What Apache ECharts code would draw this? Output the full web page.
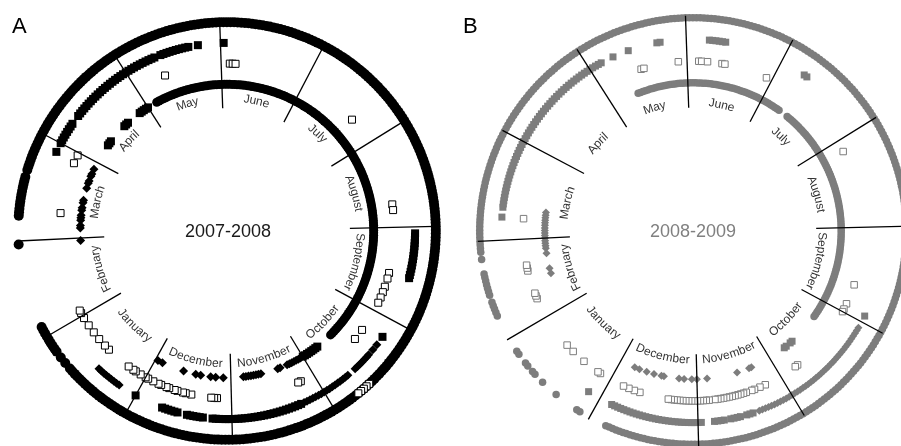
<!DOCTYPE html>
<html>
<head>
<meta charset="utf-8">
<script src="https://cdn.jsdelivr.net/npm/echarts@6/dist/echarts.min.js"></script>
<style>
  html, body { margin: 0; padding: 0; background: #fff; }
  #chart { width: 901px; height: 446px; }
</style>
</head>
<body>
<div id="chart"></div>
<script>
// Season calendar: day 0 = 1 June, one lap = 365 days, clockwise from 12 o'clock.
const months = ['June', 'July', 'August', 'September', 'October', 'November',
                'December', 'January', 'February', 'March', 'April', 'May'];
const monthStart = [0, 30, 61, 92, 122, 153, 183, 214, 245, 273, 304, 334];
const monthDays = [30, 31, 31, 30, 31, 30, 31, 31, 28, 31, 30, 31];
// Month names in the lower half are read from inside the ring
const readFromInside = ['October', 'November', 'December', 'January'];

const seasonA = '2007-2008';
const seasonB = '2008-2009';

// Detection days per ring (track 1 = innermost, 4 = outermost).
// A pair [a, b] means every day from a to b.
const a_t4_circle = [[0, 234], 236, 238, [240, 248], 272, [280, 291], [293, 364]];
const a_t4_open = [141, 142, 143, 144, 145];
const a_t3_square = [1, [94, 108], 128, [161, 189], [192, 197], [200, 205], 214,
                     301, [304, 311], [314, 344], [346, 355], 358];
const a_t3_diamond = [131, 133, [135, 141], [144, 160], [220, 228]];
const a_t2_open = [3, 4, 5, 51, 84, 86, 108, 110, 113, 115, 117, 119, 130, 134, 158, 159,
                   188, 189, 190, 197, 199, 200, 202, 203, 205, 206, 208, 209, 211, 213, 214,
                   216, 218, 219, 221, 230, 232, 235, 238, 241, 244, 246, 247, 282, 300, 303, 345];
const a_t1_circle = [[0, 139], [338, 364]];
const a_t1_square = [[146, 153], [312, 314], [322, 324], [330, 334]];
const a_t1_diamond = [154, 155, 156, 157, 158, 159, 160, 163, 164, 171, 172, 173, 174, 175, 176,
                      177, 178, 186, 189, 191, 195, 197, 202, 211, 213, 272, 277, 278, 280, 281,
                      282, 284, 285, 287, 288, 293, 295, 296, 298, 299, 301];

const b_t4_circle = [[0, 209], 217, 218, 225, 230, 233, 234, 236, 237, 240, 241,
                     [252, 256], [258, 264], 268, [270, 364]];
const b_t3_square = [[7, 12], 38, 39, 120, [166, 168], [170, 173], [175, 178], [182, 210], 218,
                     280, [283, 338], 342, 347, 356, 357];
const b_t3_diamond = [[124, 164]];
const b_t2_open = [4, 5, 7, 12, 13, 28, 65, 112, 119, 121, 122, 146, 147, 159, 161, 163, 164,
                   [166, 177], [179, 193], 203, 205, 207, 209, 218, 219, 225, 230, 233,
                   252, 253, 254, 262, 263, 264, 280, 349, 350, 362];
const b_t1_circle = [[0, 38], [42, 129], [345, 364]];
const b_t1_square = [142, 143, 145, 146];
const b_t1_diamond = [161, 162, 167, 179, 183, 185, 188, 190, 196, 197, 200, 203, 206, 208,
                      259, 261, 267, [269, 283]];

function expand(list) {
  const out = [];
  list.forEach(v => {
    if (Array.isArray(v)) { for (let d = v[0]; d <= v[1]; d++) out.push(d); }
    else out.push(v);
  });
  return out;
}

// Panel geometry and look
const panels = [
  { center: [227, 231], base: 126, step: 20.7, ink: '#000', spokeOut: 4.0, labelR: 0.34,
    title: seasonA, titleColor: '#1a1a1a', letter: 'A',
    sizes: { circleOuter: 10, circleInner: 9, square: 8, diamond: 9, open: 7 },
    rings: [
      { track: 4, shape: 'circle', days: a_t4_circle, size: 'circleOuter' },
      { track: 1, shape: 'circle', days: a_t1_circle, size: 'circleInner' },
      { track: 3, shape: 'square', days: a_t3_square },
      { track: 1, shape: 'square', days: a_t1_square },
      { track: 3, shape: 'diamond', days: a_t3_diamond },
      { track: 1, shape: 'diamond', days: a_t1_diamond },
      { track: 2, shape: 'open', days: a_t2_open },
      { track: 4, shape: 'open', days: a_t4_open }
    ] },
  { center: [693, 231], base: 126.5, step: 21.7, ink: '#7d7d7d', spokeOut: 4.1, labelR: 0.12,
    title: seasonB, titleColor: '#808080', letter: 'B',
    sizes: { circleOuter: 7.5, circleInner: 7.5, square: 7, diamond: 8, open: 6.5 },
    rings: [
      { track: 4, shape: 'circle', days: b_t4_circle, size: 'circleOuter' },
      { track: 1, shape: 'circle', days: b_t1_circle, size: 'circleInner' },
      { track: 3, shape: 'square', days: b_t3_square },
      { track: 1, shape: 'square', days: b_t1_square },
      { track: 3, shape: 'diamond', days: b_t3_diamond },
      { track: 1, shape: 'diamond', days: b_t1_diamond },
      { track: 2, shape: 'open', days: b_t2_open }
    ] }
];

const labelFont = '12px "Liberation Sans", Arial, sans-serif';
const measureCtx = document.createElement('canvas').getContext('2d');
measureCtx.font = labelFont;

const series = [];
panels.forEach((p, pi) => {
  p.rings.forEach(ring => {
    const open = ring.shape === 'open';
    const symbol = ring.shape === 'circle' ? 'circle' : ring.shape === 'diamond' ? 'diamond' : 'rect';
    series.push({
      type: 'scatter', coordinateSystem: 'polar', polarIndex: pi, silent: true,
      symbol: symbol,
      symbolSize: p.sizes[ring.size || ring.shape],
      itemStyle: open
        ? { color: '#fff', borderColor: p.ink, borderWidth: 1, opacity: 1 }
        : { color: p.ink, opacity: 1 },
      data: expand(ring.days).map(d => [ring.track, d]),
      z: open ? 4 : 3
    });
  });

  // Month boundary spokes
  series.push({
    type: 'custom', coordinateSystem: 'polar', polarIndex: pi, silent: true, z: 6,
    data: monthStart.map(d => [0, d]),
    renderItem: (params, api) => {
      const d = api.value(1);
      const a = api.coord([-0.15, d]);
      const b = api.coord([p.spokeOut, d]);
      return { type: 'line', shape: { x1: a[0], y1: a[1], x2: b[0], y2: b[1] },
               style: { stroke: '#000', lineWidth: 1.3 } };
    }
  });

  // Month names bent along the inner circle
  series.push({
    type: 'custom', coordinateSystem: 'polar', polarIndex: pi, silent: true, z: 5,
    data: monthStart.map(d => [0, d]),
    renderItem: (params, api) => {
      const i = params.dataIndex;
      const name = months[i];
      const mid = monthStart[i] + monthDays[i] / 2;
      const inside = readFromInside.indexOf(name) >= 0;
      const c = p.center;
      const p0 = api.coord([p.labelR, mid]);
      const r = Math.hypot(p0[0] - c[0], p0[1] - c[1]);
      const chars = name.split('');
      const widths = chars.map(ch => measureCtx.measureText(ch).width);
      const total = widths.reduce((s, w) => s + w, 0);
      const children = [];
      let acc = 0;
      chars.forEach((ch, k) => {
        const off = (acc + widths[k] / 2 - total / 2) / r;
        acc += widths[k];
        const dd = (inside ? -off : off) * 180 / Math.PI * 365 / 360;
        const pt = api.coord([p.labelR, mid + dd]);
        const ux = (pt[0] - c[0]) / r, uy = (pt[1] - c[1]) / r;
        const rot = inside ? Math.atan2(ux, uy) : Math.atan2(-ux, -uy);
        children.push({
          type: 'text', x: pt[0], y: pt[1], rotation: rot,
          style: { text: ch, font: labelFont, fill: '#333', align: 'center', verticalAlign: 'middle' }
        });
      });
      return { type: 'group', children: children };
    }
  });
});

const option = {
  animation: false,
  backgroundColor: '#fff',
  polar: panels.map(p => ({ center: p.center, radius: [p.base, p.base + p.step * 5] })),
  angleAxis: panels.map((p, i) => ({
    polarIndex: i, type: 'value', min: 0, max: 365, startAngle: 92, clockwise: true, show: false
  })),
  radiusAxis: panels.map((p, i) => ({ polarIndex: i, type: 'value', min: 0, max: 5, show: false })),
  graphic: [
    { type: 'text', left: 12, top: 16, style: { text: panels[0].letter, font: '22px "Liberation Sans", Arial, sans-serif', fill: '#000' } },
    { type: 'text', left: 463, top: 16, style: { text: panels[1].letter, font: '22px "Liberation Sans", Arial, sans-serif', fill: '#000' } },
    { type: 'text', x: 228, y: 232, style: { text: panels[0].title, font: '18px "Liberation Sans", Arial, sans-serif', fill: panels[0].titleColor, align: 'center', verticalAlign: 'middle' } },
    { type: 'text', x: 693, y: 232, style: { text: panels[1].title, font: '18px "Liberation Sans", Arial, sans-serif', fill: panels[1].titleColor, align: 'center', verticalAlign: 'middle' } }
  ],
  series: series
};

const chart = echarts.init(document.getElementById('chart'), null, { renderer: 'canvas' });
chart.setOption(option);
</script>
</body>
</html>
